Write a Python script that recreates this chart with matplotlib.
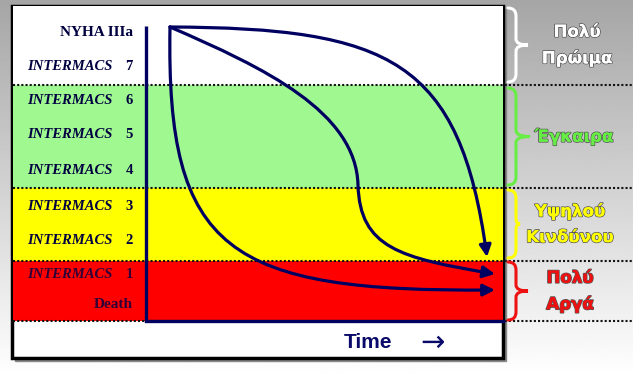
import matplotlib.pyplot as plt
import matplotlib.patheffects as pe
import numpy as np
from matplotlib.patches import FancyArrowPatch, PathPatch, Rectangle
from matplotlib.path import Path

W, H = 633, 376

# band edges (pixel rows, top -> bottom) and colours
band_edges = [6, 85, 188, 261, 321]
band_colors = ['#ffffff', '#a0f890', '#ffff00', '#ff0000']

# left scale labels
row_y = [32, 67, 100, 135, 170, 206, 240, 274, 305]
row_words = ['NYHA IIIa', 'INTERMACS', 'INTERMACS', 'INTERMACS', 'INTERMACS',
             'INTERMACS', 'INTERMACS', 'INTERMACS', 'Death']
row_nums = ['', '7', '6', '5', '4', '3', '2', '1', '']

# right side groups
group_text = ['Πολύ\nΠρώιμα', 'Έγκαιρα', 'Υψηλού\nΚινδύνου', 'Πολύ\nΑργά']
group_colors = ['#ffffff', '#66ee44', '#ffff00', '#ee1111']
group_x = [577, 574, 570, 570]
brace_top = [8, 88, 190, 262]
brace_bot = [82, 185, 258, 320]
brace_tip = [12, 14, 4, 12]

# trajectories: cubic bezier control points, one list per curve
curve1 = [(170, 27), (390, 28), (460, 60), (487, 257)]
curve2 = [(170, 27), (265, 68), (356, 112), (358, 185),
          (360, 248), (400, 258), (495, 274)]
curve3 = [(170, 27), (166, 252), (228, 292), (495, 290)]

navy = '#000060'

fig = plt.figure(figsize=(W / 100, H / 100), dpi=100)
ax = fig.add_axes([0, 0, 1, 1])
ax.set_xlim(0, W)
ax.set_ylim(H, 0)
ax.axis('off')

# grey gradient background
grad = np.linspace(0.65, 1.0, 256).reshape(-1, 1)
ax.imshow(grad, cmap='gray', vmin=0, vmax=1, extent=[0, W, H, 0], aspect='auto', zorder=0)

# white box with shadow
ax.add_patch(Rectangle((15, 9), 491, 352, color='#888888', zorder=1))
ax.add_patch(Rectangle((12, 6), 491, 352, facecolor='white', edgecolor='black', lw=2.5, zorder=2))

for i, c in enumerate(band_colors):
    ax.add_patch(Rectangle((13, band_edges[i]), 490, band_edges[i + 1] - band_edges[i],
                           color=c, lw=0, zorder=3))
for y in band_edges[1:]:
    ax.plot([13, W], [y, y], color='#111111', lw=1.5, ls=(0, (1, 1)), zorder=4)

# axes lines
ax.plot([146, 146], [26, 321], color=navy, lw=2.4, zorder=5, solid_capstyle='butt')
ax.plot([146, 503], [321, 321], color=navy, lw=2.4, zorder=5)

# left labels
for y, word, num in zip(row_y, row_words, row_nums):
    col = '#300038' if y > 261 else '#000040'
    if num:
        ax.text(113, y, word, ha='right', va='center', fontsize=10.5, family='Liberation Serif',
                style='italic', weight='bold', color=col, zorder=6)
        ax.text(133, y, num, ha='right', va='center', fontsize=10.5, family='Liberation Serif',
                weight='bold', color=col, zorder=6)
    else:
        ax.text(133, y, word, ha='right', va='center', fontsize=11, family='Liberation Serif',
                weight='bold', color=col, zorder=6)


def bez_path(pts):
    codes = [Path.MOVETO] + [Path.CURVE4] * (len(pts) - 1)
    return Path(pts, codes)


for pts in [curve1, curve2, curve3]:
    arr = FancyArrowPatch(path=bez_path(pts), arrowstyle='-|>,head_length=7,head_width=3.5',
                          color=navy, lw=2.3, zorder=7)
    ax.add_patch(arr)

# braces and group labels
for txt, col, gx, y0, y1, tip in zip(group_text, group_colors, group_x,
                                     brace_top, brace_bot, brace_tip):
    x0 = 516
    ym = (y0 + y1) / 2
    verts = [(x0 - 8, y0), (x0, y0), (x0, y0 + 8), (x0, ym - 6), (x0, ym), (x0 + tip, ym),
             (x0, ym), (x0, ym + 6), (x0, y1 - 8), (x0, y1), (x0 - 8, y1)]
    codes = [Path.MOVETO, Path.CURVE3, Path.CURVE3, Path.LINETO, Path.CURVE3, Path.CURVE3,
             Path.CURVE3, Path.CURVE3, Path.LINETO, Path.CURVE3, Path.CURVE3]
    ax.add_patch(PathPatch(Path(verts, codes), fill=False, edgecolor=col, lw=2.2,
                           capstyle='round', zorder=5))
    ax.text(gx, ym, txt, ha='center', va='center', fontsize=12, family='DejaVu Sans',
            weight='bold', color=col, linespacing=1.55, zorder=6,
            path_effects=[pe.withStroke(linewidth=1.2, foreground='#555555'), pe.Normal()])

ax.text(368, 343, 'Time', ha='center', va='center', fontsize=15, family='Liberation Sans',
        weight='bold', color='#0a0a6a', zorder=6)
ax.text(432, 343, '→', ha='center', va='center', fontsize=21, family='DejaVu Sans',
        color='#0a0a6a', zorder=6)

fig.savefig('out.png', dpi=100)
